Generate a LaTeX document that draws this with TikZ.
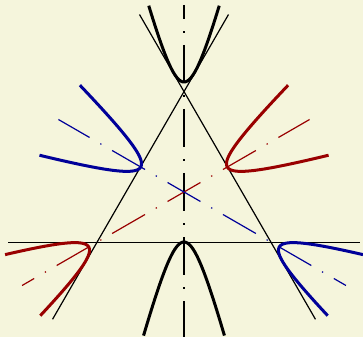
\documentclass[tikz,border=0pt]{standalone}
\usetikzlibrary{calc}
\definecolor{bg}{RGB}{245,245,220}
\definecolor{dred}{RGB}{153,0,0}
\definecolor{dblue}{RGB}{0,0,153}
\tikzset{
  sideline/.style={black, line width=1.2pt},
  hypline/.style={line width=3pt},
  axisline/.style={line width=1.2pt, dash pattern=on 38pt off 12.35pt on 1.3pt off 12.35pt, dash phase=24pt}
}
\begin{document}
\begin{tikzpicture}[x=1pt,y=1pt]
\fill[bg] (0,0) rectangle (363,337);
\useasboundingbox (0,0) rectangle (363,337);
\begin{scope}[shift={(184,145)}]
  \coordinate (A) at (90:100.4);
  \coordinate (B) at (210:100.4);
  \coordinate (C) at (330:100.4);
  \draw[sideline] ($(A)!-89pt!(B)$) coordinate (AB1) -- ($(B)!-89pt!(A)$) coordinate (AB2);
  \draw[sideline] ($(A)!-89pt!(C)$) coordinate (AC1) -- ($(C)!-89pt!(A)$) coordinate (AC2);
  \draw[sideline] ($(B)!-89pt!(C)$) coordinate (BC1) -- ($(C)!-89pt!(B)$) coordinate (BC2);
  \foreach \ang/\col in {0/black,120/dred,240/dblue}{
    \begin{scope}[rotate=\ang]
      \coordinate (P) at (0,187);
      \coordinate (Q) at (0,-145);
      \draw[axisline, \col] (P) -- (Q);
      \draw[hypline, \col] plot[domain=-1.29:1.29, samples=80, variable=\t] ({21*sinh(\t)}, {30+80*cosh(\t)});
      \draw[hypline, \col] plot[domain=-1.41:1.41, samples=80, variable=\t] ({21*sinh(\t)}, {30-80*cosh(\t)});
    \end{scope}
  }
\end{scope}
\end{tikzpicture}
\end{document}
